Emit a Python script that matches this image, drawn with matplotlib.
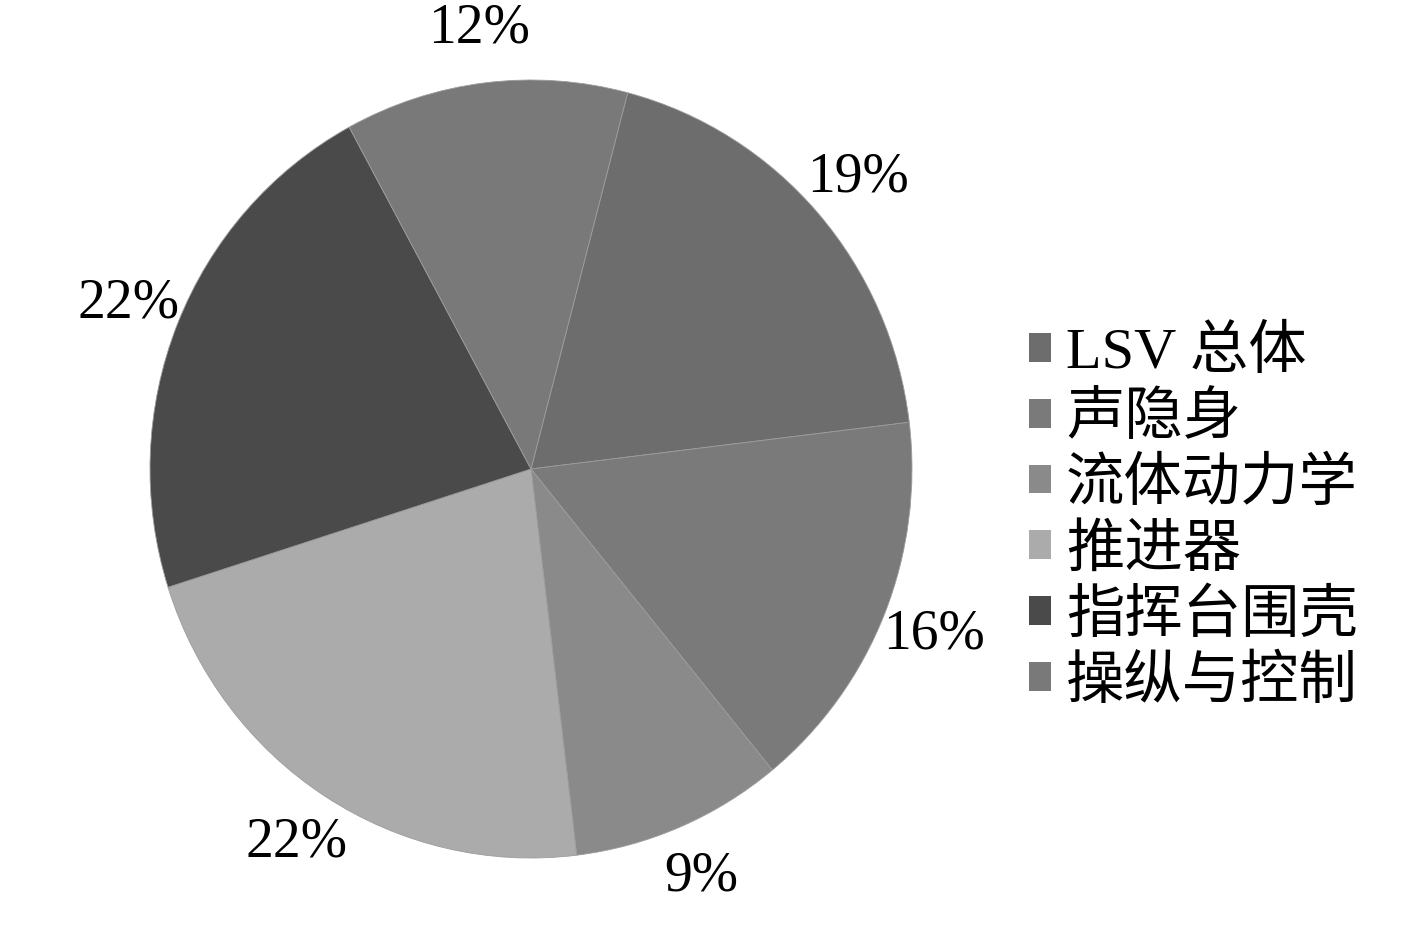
import matplotlib
matplotlib.use("Agg")
import matplotlib.pyplot as plt
from matplotlib.font_manager import FontProperties

categories = ["LSV 总体", "声隐身", "流体动力学", "推进器", "指挥台围壳", "操纵与控制"]
values = [19, 16, 9, 22, 22, 12]
colors = ["#6d6d6d", "#7a7a7a", "#8a8a8a", "#ababab", "#4a4a4a", "#797979"]

W, H = 1417, 944
fig = plt.figure(figsize=(W / 100, H / 100), dpi=100)
Rx, Ry = 381.0, 389.0
cx, cy = 531.0, 944 - 469.0
xl, yl = 1.3, 1.2
ax = fig.add_axes([(cx - xl * Rx) / W, (cy - yl * Ry) / H, 2 * xl * Rx / W, 2 * yl * Ry / H])

wedges, texts, autotexts = ax.pie(
    values, colors=colors, startangle=75.3, counterclock=False,
    autopct=lambda p: f"{p:.0f}%", pctdistance=1.14,
    wedgeprops=dict(edgecolor="#9c9c9c", linewidth=0.6),
    textprops=dict(fontfamily="Liberation Serif", fontsize=40, color="black"),
)
ax.set_xlim(-xl, xl)
ax.set_ylim(-yl, yl)
ax.set_aspect("auto")
ax.axis("off")

prop = FontProperties(family=["Liberation Serif", "Noto Sans CJK SC"], size=42)
leg = fig.legend(wedges, categories, loc="center left",
                 bbox_to_anchor=(1000 / W, 1 - 518 / H), frameon=False, prop=prop,
                 handlelength=0.38, handleheight=0.38, handletextpad=0.25,
                 labelspacing=0.2, borderpad=0)
for h in leg.legend_handles:
    h.set_edgecolor("none")

fig.savefig("out.png", dpi=100)
